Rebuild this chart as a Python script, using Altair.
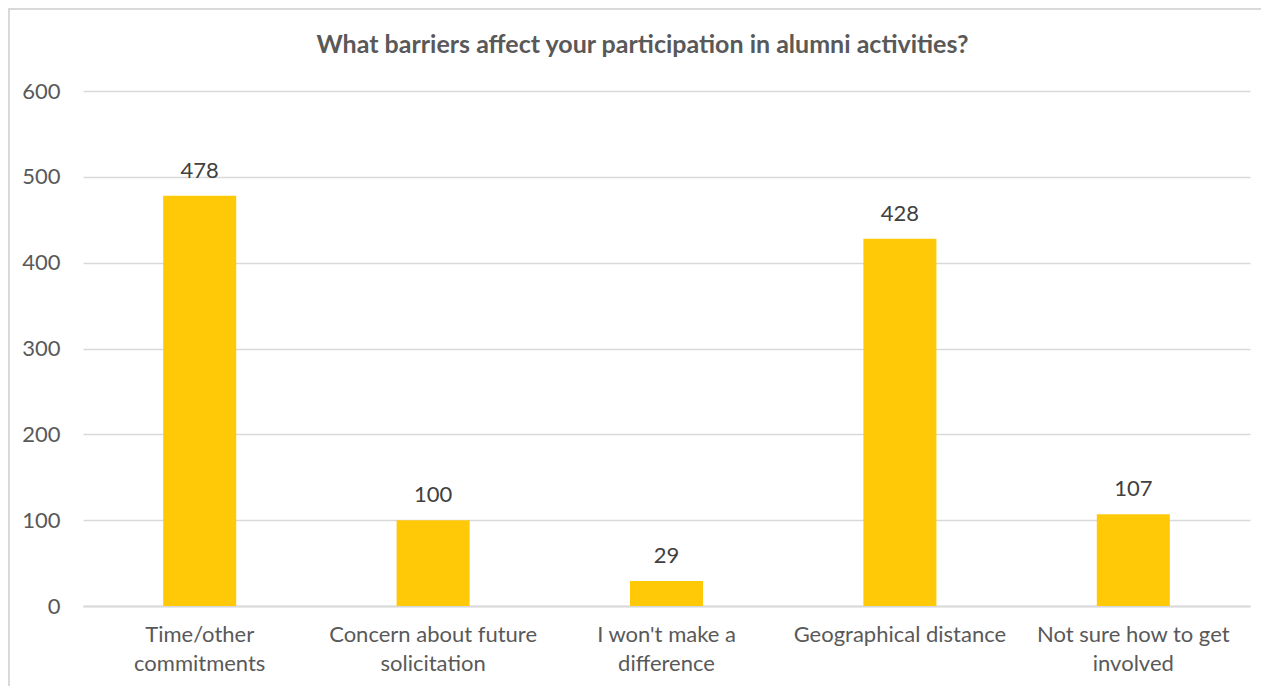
import altair as alt
import pandas as pd

categories = [
    "Time/other commitments",
    "Concern about future solicitation",
    "I won't make a difference",
    "Geographical distance",
    "Not sure how to get involved",
]
label_lines = [
    ["Time/other", "commitments"],
    ["Concern about future", "solicitation"],
    ["I won't make a", "difference"],
    ["Geographical distance"],
    ["Not sure how to get", "involved"],
]
values = [478, 100, 29, 428, 107]
y_ticks = [0, 100, 200, 300, 400, 500, 600]
title_text = "What barriers affect your participation in alumni activities?"

df = pd.DataFrame({"category": categories, "value": values})

def js_list(lines):
    return "[" + ",".join("'" + s.replace("'", "\\'") + "'" for s in lines) + "]"

expr = "''"
for cat, lines in reversed(list(zip(categories, label_lines))):
    c = cat.replace("'", "\\'")
    expr = f"datum.label === '{c}' ? {js_list(lines)} : ({expr})"

FONT = "Lato"
FS = 22
W, H = 1167, 515
LEFT, TOP = 75, 83

x_axis = alt.Axis(
    labelExpr=expr,
    labelAngle=0,
    labelFontSize=FS,
    labelColor="#595959",
    labelFont=FONT,
    labelPadding=18,
    labelLineHeight=29,
    ticks=False,
    domain=True,
    domainColor="#D9D9D9",
    domainWidth=2,
    grid=False,
    labelLimit=300,
)
y_axis = alt.Axis(
    values=y_ticks,
    labelFontSize=FS,
    labelColor="#595959",
    labelFont=FONT,
    labelPadding=23,
    ticks=False,
    domain=False,
    grid=True,
    gridColor="#D9D9D9",
    gridWidth=1.5,
)

def x_enc():
    return alt.X(
        "category:N",
        sort=categories,
        title=None,
        scale=alt.Scale(paddingInner=0, paddingOuter=0),
        axis=x_axis,
    )

def y_enc():
    return alt.Y(
        "value:Q",
        title=None,
        scale=alt.Scale(domain=[0, 600], nice=False),
        axis=y_axis,
    )

base = alt.Chart(df)
bars = base.mark_bar(color="#FFC907", size=73).encode(x=x_enc(), y=y_enc())
labels = base.mark_text(
    baseline="alphabetic", dy=-18, fontSize=FS, color="#404040", font=FONT
).encode(x=x_enc(), y=y_enc(), text="value:Q")

border = alt.Chart(pd.DataFrame({"k": [0]})).mark_rect(
    fill="transparent", stroke="#D9D9D9", strokeWidth=2
).encode(
    x=alt.value(-74),
    x2=alt.value(1269 - 83 + 30),
    y=alt.value(-82),
    y2=alt.value(694 - 91 + 30),
)

chart = (
    alt.layer(border, bars, labels)
    .properties(
        width=W,
        height=H,
        padding={"left": LEFT, "top": TOP, "right": 11, "bottom": 80},
        autosize=alt.AutoSizeParams(type="none"),
        view=alt.ViewBackground(stroke="transparent", strokeWidth=0),
        title=alt.TitleParams(
            title_text,
            font=FONT,
            fontSize=25,
            fontWeight="bold",
            color="#595959",
            anchor="middle",
            frame="group",
            dx=-24,
            dy=50,
            offset=0,
        ),
    )
    .configure_view(strokeWidth=0, stroke="transparent")
    .configure(background="white")
)

chart.save("out.html", embed_options={"renderer": "svg", "actions": False})
